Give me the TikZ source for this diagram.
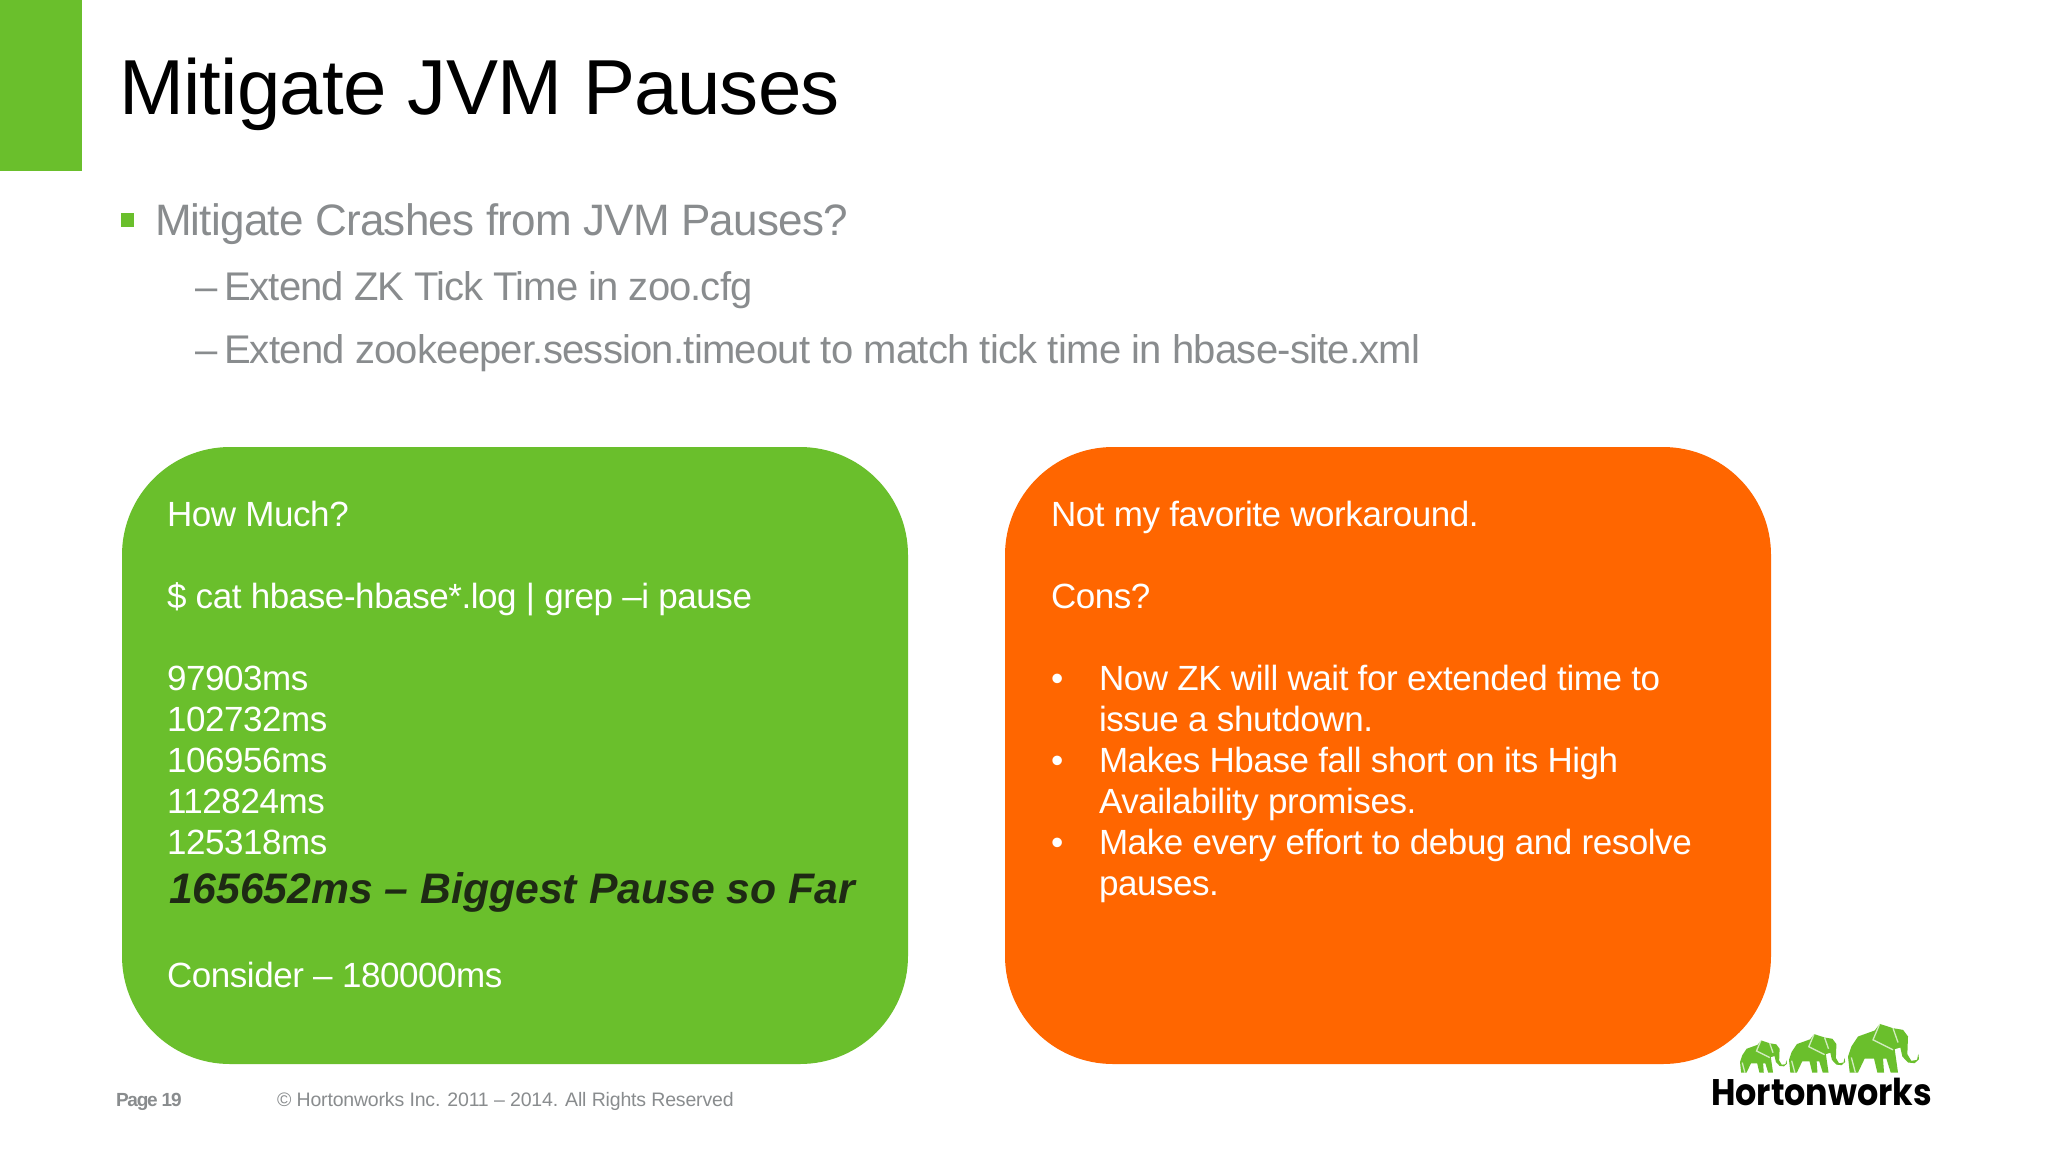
\documentclass[tikz,border=0pt]{standalone}
\usepackage{fontspec}
\setmainfont{Liberation Sans}
\newfontfamily\logofont[FakeStretch=0.903]{Poppins}
\definecolor{hwgreen}{HTML}{6ABF2C}
\definecolor{hworange}{HTML}{FF6600}
\definecolor{hwgray}{HTML}{898C8E}
\definecolor{hwdark}{HTML}{1E2A14}
\newcommand{\fsz}[2]{\addfontfeatures{LetterSpace=#2}\fontsize{#1pt}{#1pt}\selectfont}
\newcommand{\elephant}[3]{%
 \begin{scope}[shift={(#1,#2)},xscale=#3/3,yscale=#3/3]
  \fill[hwgreen] (5,0) -- (0,-48) -- (10,-78) -- (30,-108) -- (80,-126) -- (95,-146) -- (135,-133) -- (165,-128) -- (180,-108) -- (178,-55) -- (190,-35) -- (207,-38) -- (211,-56) -- (213,-40) -- (200,-28) -- (180,-30) -- (163,-48) -- (157,-75) -- (140,-70) -- (150,0) -- (128,0) -- (115,-42) -- (105,-42) -- (108,0) -- (88,0) -- (78,-42) -- (50,-42) -- (30,0) -- cycle;
  \draw[white,line width=1.3pt,opacity=.7] (95,-146) -- (75,-98) -- (135,-68) (135,-133) -- (150,-90) (10,-45) -- (22,0);
 \end{scope}}
\tikzset{
 every node/.style={inner sep=0pt,outer sep=0pt,anchor=base west},
 boxtext/.style={text=white,font=\fsz{35}{-1.25}},
 subtext/.style={text=hwgray,font=\fsz{40}{-1.9}},
 panel/.style={rounded corners=108pt}
}
\begin{document}
\begin{tikzpicture}[x=1pt,y=-1pt]
\useasboundingbox (0,0) rectangle (2048,1152);
\fill[white] (0,0) rectangle (2048,1152);
\fill[hwgreen] (0,0) rectangle (82,171);
\node[font=\fsz{78}{-0.95}] (title) at (119,114.5) {Mitigate JVM Pauses};
\fill[hwgreen] (121,213) rectangle (134,227);
\node[text=hwgray,font=\fsz{44}{-1.7}] (b1) at (155,235.5) {Mitigate Crashes from JVM Pauses?};
\node[subtext] (b2d) at (195,300) {–};
\node[text=hwgray,font=\fsz{40}{-2.3}] (b2) at (224,300) {Extend ZK Tick Time in zoo.cfg};
\node[subtext] (b3d) at (195,363) {–};
\node[subtext] (b3) at (224,363) {Extend zookeeper.session.timeout to match tick time in hbase-site.xml};
\fill[hwgreen,panel] (122,447) rectangle (908,1064);
\fill[hworange,panel] (1005,447) rectangle (1771,1064);
\node[boxtext] (g1) at (167,526) {How Much?};
\node[boxtext] (g2) at (167,608) {\$ cat hbase-hbase*.log | grep –i pause};
\node[boxtext] (g3) at (167,690) {97903ms};
\node[boxtext] (g4) at (167,731) {102732ms};
\node[boxtext] (g5) at (167,772) {106956ms};
\node[boxtext] (g6) at (167,813) {112824ms};
\node[boxtext] (g7) at (167,854) {125318ms};
\node[text=hwdark,font=\bfseries\itshape\fsz{42.7}{0}] (g8) at (169,903) {165652ms – Biggest Pause so Far};
\node[boxtext] (g9) at (167,987) {Consider – 180000ms};
\node[boxtext] (o1) at (1051,526) {Not my favorite workaround.};
\node[boxtext] (o2) at (1051,608) {Cons?};
\node[boxtext] (o3d) at (1051,690) {•};
\node[boxtext] (o3) at (1099,690) {Now ZK will wait for extended time to};
\node[boxtext] (o4) at (1099,731) {issue a shutdown.};
\node[boxtext] (o5d) at (1051,772) {•};
\node[boxtext] (o5) at (1099,772) {Makes Hbase fall short on its High};
\node[boxtext] (o6) at (1099,813) {Availability promises.};
\node[boxtext] (o7d) at (1051,854) {•};
\node[boxtext] (o7) at (1099,854) {Make every effort to debug and resolve};
\node[boxtext] (o8) at (1099,895) {pauses.};
\node[text=hwgray,font=\bfseries\fsz{19}{-6.5}] (page) at (116,1106) {Page 19};
\node[text=hwgray,font=\fsz{19.5}{-0.9}] (copy) at (277,1106) {© Hortonworks Inc. 2011 – 2014. All Rights Reserved};
\elephant{1740}{1072.5}{0.66}
\elephant{1789}{1072.5}{0.79}
\elephant{1848}{1072.5}{1}
\node[font=\logofont\bfseries\fontsize{37pt}{37pt}\selectfont] (logo) at (1711,1105) {Hortonworks};
\end{tikzpicture}
\end{document}
